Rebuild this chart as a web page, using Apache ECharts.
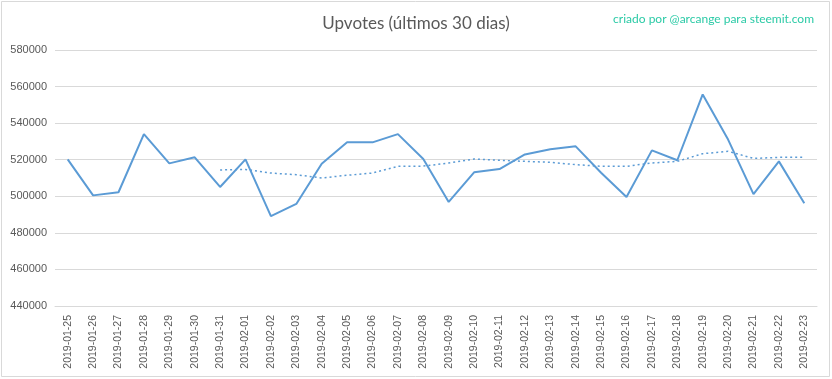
<!DOCTYPE html>
<html>
<head>
<meta charset="utf-8">
<script src="https://cdn.jsdelivr.net/npm/echarts@6/dist/echarts.min.js"></script>
<style>
html,body{margin:0;padding:0;background:#fff;}
#chart{width:832px;height:379px;}
</style>
</head>
<body>
<div id="chart"></div>
<script>
const categories = [
  "2019-01-25","2019-01-26","2019-01-27","2019-01-28","2019-01-29","2019-01-30","2019-01-31",
  "2019-02-01","2019-02-02","2019-02-03","2019-02-04","2019-02-05","2019-02-06","2019-02-07",
  "2019-02-08","2019-02-09","2019-02-10","2019-02-11","2019-02-12","2019-02-13","2019-02-14",
  "2019-02-15","2019-02-16","2019-02-17","2019-02-18","2019-02-19","2019-02-20","2019-02-21",
  "2019-02-22","2019-02-23"
];
const upvotes = [
  520200, 500500, 502200, 534000, 518000, 521300, 505100,
  520200, 489200, 495800, 517800, 529500, 529500, 534000,
  520400, 496900, 513100, 514900, 522900, 525700, 527300,
  512900, 499600, 525100, 519700, 555700, 531000, 501200,
  519100, 496200
];
const movingAvg = [
  null, null, null, null, null, null, 514400,
  514700, 512700, 511800, 510000, 511500, 512700, 516400,
  516500, 518200, 520400, 519700, 519100, 518600, 517300,
  516400, 516400, 518200, 519100, 523300, 524600, 520700,
  521300, 521300
];
const yTicks = { min: 440000, max: 580000, step: 20000 };

const chart = echarts.init(document.getElementById('chart'));
chart.setOption({
  backgroundColor: '#ffffff',
  animation: false,
  graphic: [{
    type: 'rect',
    shape: { x: 1.5, y: 1.5, width: 828, height: 375 },
    style: { fill: 'none', stroke: '#d9d9d9', lineWidth: 1 },
    silent: true
  }],
  title: [{
    text: 'Upvotes (últimos 30 dias)',
    left: 'center',
    top: 10,
    textStyle: { fontFamily: 'Lato', fontSize: 17, fontWeight: 'normal', color: '#595959' }
  }, {
    text: 'criado por @arcange para steemit.com',
    right: 13,
    top: 8,
    textStyle: { fontFamily: 'Lato', fontSize: 12, fontWeight: 'normal', color: '#2bcaa6' }
  }],
  grid: { left: 55, right: 15, top: 50, bottom: 73, containLabel: false },
  xAxis: {
    type: 'category',
    data: categories,
    boundaryGap: true,
    axisLine: { show: true, lineStyle: { color: '#d9d9d9', width: 1 } },
    axisTick: { show: false },
    axisLabel: {
      rotate: 90, interval: 0, margin: 9,
      fontFamily: 'Liberation Sans', fontSize: 10.5, color: '#595959'
    },
    splitLine: { show: false }
  },
  yAxis: {
    type: 'value',
    min: yTicks.min, max: yTicks.max, interval: yTicks.step,
    axisLine: { show: false },
    axisTick: { show: false },
    axisLabel: {
      margin: 8, fontFamily: 'Liberation Sans', fontSize: 11, color: '#595959',
      formatter: function (v) { return String(v); }
    },
    splitLine: { lineStyle: { color: '#d9d9d9', width: 1 } }
  },
  series: [{
    type: 'line',
    data: upvotes,
    symbol: 'none',
    lineStyle: { color: '#5b9bd5', width: 2 },
    itemStyle: { color: '#5b9bd5' },
    z: 3
  }, {
    type: 'line',
    data: movingAvg,
    symbol: 'none',
    connectNulls: false,
    lineStyle: { color: '#5b9bd5', width: 1.5, type: [2, 3] },
    itemStyle: { color: '#5b9bd5' },
    z: 2
  }]
});
</script>
</body>
</html>
